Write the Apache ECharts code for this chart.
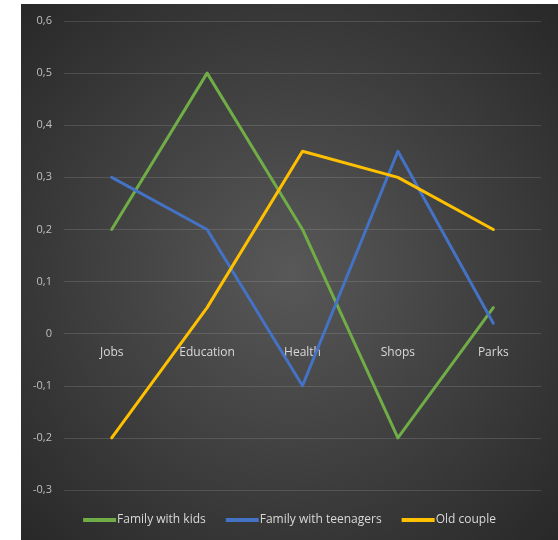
<!DOCTYPE html>
<html>
<head>
<meta charset="utf-8">
<script src="https://cdn.jsdelivr.net/npm/echarts@6/dist/echarts.min.js"></script>
<style>
  html, body { margin: 0; padding: 0; background: #fff; }
  #chart { position: absolute; left: 21px; top: 4px; width: 537px; height: 536px; }
</style>
</head>
<body>
<div id="chart"></div>
<script>
// categories and series values
var categories = ["Jobs", "Education", "Health", "Shops", "Parks"];
var kids = [0.2, 0.5, 0.2, -0.2, 0.05];
var teenagers = [0.3, 0.2, -0.1, 0.35, 0.02];
var oldCouple = [-0.2, 0.05, 0.35, 0.3, 0.2];
var seriesNames = ["Family with kids", "Family with teenagers", "Old couple"];
var colors = ["#70AD47", "#4472C4", "#FFC000"];
var yMin = -0.3, yMax = 0.6;

var gridTop = 17, gridBottom = 50, chartHeight = 536;
// move the category axis up to the zero line
var gridHeight = chartHeight - gridTop - gridBottom;
var zeroOffset = -gridHeight * (0 - yMin) / (yMax - yMin);

var myChart = echarts.init(document.getElementById("chart"));

function lineSeries(name, data, color) {
  return {
    name: name,
    type: "line",
    data: data,
    symbol: "none",
    z: 3,
    lineStyle: { width: 3, color: color, join: "round", cap: "round" },
    itemStyle: { color: color }
  };
}

myChart.setOption({
  // dark background, lighter in the middle
  backgroundColor: {
    type: "radial",
    x: 0.5, y: 0.5, r: 0.75,
    colorStops: [
      { offset: 0, color: "#585858" },
      { offset: 1, color: "#252525" }
    ]
  },
  animation: false,
  grid: { left: 43, right: 17, top: gridTop, bottom: gridBottom },
  legend: {
    bottom: 9,
    itemWidth: 33,
    itemHeight: 4,
    itemGap: 20,
    icon: "rect",
    textStyle: {
      color: "#d9d9d9",
      fontFamily: "Open Sans",
      fontSize: 12,
      padding: [0, 0, 0, -4]
    },
    data: seriesNames
  },
  xAxis: {
    type: "category",
    data: categories,
    boundaryGap: true,
    position: "bottom",
    offset: zeroOffset,
    z: 1,
    axisLine: { show: false, onZero: false },
    axisTick: { show: false },
    axisLabel: {
      color: "#d9d9d9",
      fontFamily: "Open Sans",
      fontSize: 12,
      margin: 13
    }
  },
  yAxis: {
    type: "value",
    min: yMin,
    max: yMax,
    interval: 0.1,
    axisLine: { show: false },
    axisTick: { show: false },
    splitLine: { lineStyle: { color: "rgba(255,255,255,0.13)", width: 1 } },
    axisLabel: {
      color: "#bfbfbf",
      fontFamily: "Open Sans",
      fontSize: 11,
      margin: 12,
      formatter: function (v) {
        var r = Math.round(v * 10) / 10;
        return r === 0 ? "0" : r.toFixed(1).replace(".", ",");
      }
    }
  },
  series: [
    lineSeries(seriesNames[0], kids, colors[0]),
    lineSeries(seriesNames[1], teenagers, colors[1]),
    lineSeries(seriesNames[2], oldCouple, colors[2])
  ]
});
</script>
</body>
</html>
